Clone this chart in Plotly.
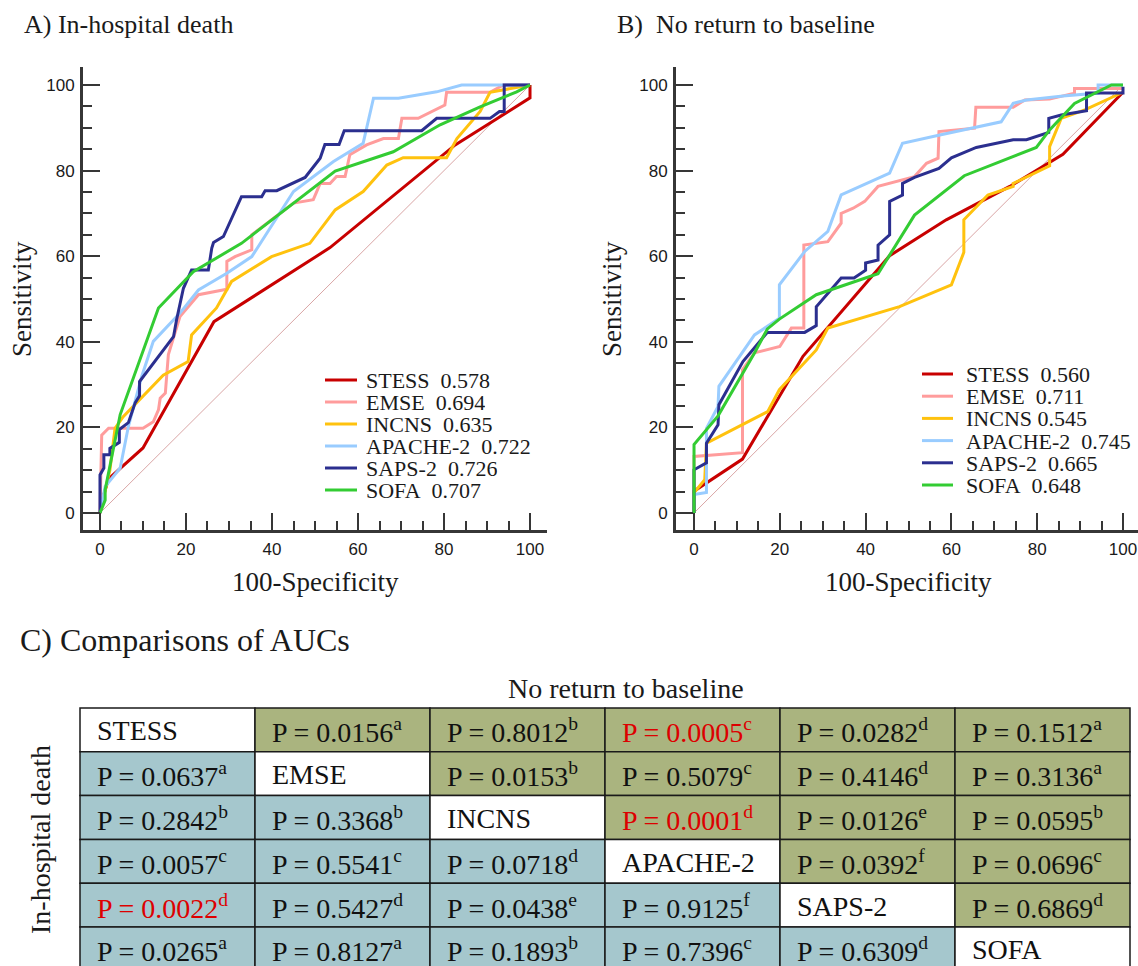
import plotly.graph_objects as go

W, H = 1138, 966

# ---------------- DATA ----------------
models = ["STESS", "EMSE", "INCNS", "APACHE-2", "SAPS-2", "SOFA"]
colors = ["#C80000", "#FF9C9C", "#FFC20E", "#99CCFF", "#2B2F8F", "#33CC33"]

aucs_a = [0.578, 0.694, 0.635, 0.722, 0.726, 0.707]
aucs_b = [0.560, 0.711, 0.545, 0.745, 0.665, 0.648]

# Panel A: In-hospital death  (x = 100-Specificity, y = Sensitivity)
stess_a_x = [0, 0.5, 2, 10, 26.5, 53.5, 82.6, 100, 100]
stess_a_y = [0, 3, 8, 15.2, 44.7, 62, 86, 97, 100]

emse_a_x = [0, 0.4, 2.0, 10, 12.4, 13.6, 14, 15.2, 15.9, 18.6, 22.9, 29.5, 29.5, 31.4, 35.3, 35.3,
            45, 49.6, 50.4, 51.2, 53.5, 55, 57, 58.1, 62, 65.9, 69.4, 70.2, 74, 80.2, 80.6, 90.7, 93.8, 100]
emse_a_y = [0, 18.2, 19.8, 19.8, 21.3, 24.1, 26.8, 28, 37, 45.9, 51, 52.3, 58.8, 59.9, 61.5, 65,
            72.4, 73.2, 75.1, 77, 77, 78.6, 78.6, 83.7, 86, 87.5, 87.5, 92.2, 92.2, 95.3, 98.3, 98.3, 100, 100]

incns_a_x = [0, 2.3, 3.5, 5.4, 14.7, 20.5, 21.3, 27.1, 30.6, 39.9, 48.8, 54.7, 61.2, 66.7, 70.5,
             80.6, 83, 88.4, 90.7, 93.4, 100]
incns_a_y = [0, 10, 19.8, 22.5, 32.2, 35.4, 41.6, 47.9, 54.1, 59.9, 63, 70.8, 75.1, 81.3, 83,
             83, 87.5, 93.8, 98.3, 98.8, 100]

apache_a_x = [0, 1.2, 4.7, 6.6, 9.7, 12.4, 18.6, 22.9, 29.5, 35.3, 45, 54.3, 61.2, 63.6, 69.4,
              78.3, 84.1, 100]
apache_a_y = [0, 6.2, 10.5, 20.2, 31.9, 40.1, 46.7, 52.1, 56, 59.9, 75.1, 82.1, 86.4, 96.9, 96.9,
              98.4, 100, 100]

saps_a_x = [0, 0, 0.9, 0.9, 2.3, 2.3, 4.5, 4.5, 6.6, 8.2, 9.2, 9.2, 17.1, 17.8, 19.4, 21.3, 25.2,
            26, 26.4, 28.7, 32.9, 37.6, 38.4, 41.1, 47.7, 51.2, 52.3, 55.6, 56.8, 74.8, 78.3, 90.7,
            92.9, 94, 94, 100]
saps_a_y = [0, 8.9, 10.5, 13.6, 13.6, 15.1, 16.5, 19.5, 21.1, 25.8, 27.4, 30.7, 41.2, 45.1, 52.5,
            56.8, 56.8, 61.9, 63.2, 64.6, 73.9, 73.9, 75.3, 75.3, 78.4, 82.9, 86.1, 86.1, 89.3,
            89.3, 92.2, 92.2, 93.8, 93.8, 100, 100]

sofa_a_x = [0, 1.2, 1.2, 4.7, 13.6, 21.7, 32.9, 54.7, 68.2, 79.1, 88.4, 96.9, 100]
sofa_a_y = [0, 3.0, 5.4, 23, 47.9, 56.4, 63, 79.9, 84.4, 90.7, 94.9, 98.4, 100]

# Panel B: No return to baseline
stess_b_x = [0, 0, 11.3, 25.4, 45.6, 58.8, 73.6, 86, 100]
stess_b_y = [0, 5.1, 12.6, 36.6, 60.1, 68.5, 76.3, 83.8, 98.3]

emse_b_x = [0, 0, 11.3, 11.3, 14.1, 20, 22.7, 25.6, 25.6, 31.2, 34.3, 34.3, 37.1, 39.8, 42.9,
            51.4, 54.2, 56.9, 57.1, 65.4, 65.7, 74.4, 77.1, 82.9, 88.7, 88.7, 100]
emse_b_y = [0, 13.2, 14.1, 33.5, 37.4, 38.9, 43.2, 43.2, 62.6, 63.4, 67.7, 70, 71.2, 72.8, 76.3,
            78.6, 81.7, 82.9, 89.1, 89.9, 94.8, 94.8, 96.5, 96.7, 98.1, 99.2, 99.2]

incns_b_x = [0, 0, 2.5, 2.9, 17.2, 19.9, 28.5, 31.2, 47.9, 60, 62.9, 62.9, 68.5, 74.4, 74.4,
             82.9, 82.9, 85.6, 91.1, 100]
incns_b_y = [0, 4.7, 7.8, 16.3, 23.7, 28.8, 38.1, 43.2, 48.2, 53.3, 60.9, 68.5, 74.3, 76.3, 77,
             81.1, 85.6, 92.2, 94.2, 98.3]

apache_b_x = [0, 0, 2.9, 2.9, 5.6, 5.8, 14.1, 17.2, 19.9, 19.9, 25.8, 31.2, 34.3, 45.6, 48.6,
              57.3, 65, 71.6, 74.4, 77.5, 86, 94.2, 94.2, 100]
apache_b_y = [0, 4.3, 4.8, 19.8, 24.9, 29.6, 41.6, 43.6, 45.5, 53.3, 61.1, 65.8, 74.3, 79.4, 86.4,
              88.3, 89.9, 91.4, 95.7, 96.5, 97.4, 98.1, 100, 100]

saps_b_x = [0, 0, 2.9, 2.9, 5.6, 5.8, 11.4, 17.1, 25.8, 28.5, 28.5, 34.3, 37.3, 40, 40, 42.9,
            42.9, 45.6, 45.6, 48.6, 48.6, 51.4, 57.1, 60, 65.8, 74.4, 77.5, 82.7, 82.7, 85.6,
            91.5, 91.5, 100, 100]
saps_b_y = [0, 10.1, 11.7, 16.3, 20.6, 25.3, 35.4, 42.2, 42.2, 43.8, 48.2, 54.9, 54.9, 56.7, 58.4,
            59.1, 62.6, 65, 72.8, 74.3, 77, 78.4, 80.5, 83, 85.4, 87.2, 87.2, 88.9, 92.2, 93,
            94, 98.1, 98.1, 99.6]

sofa_b_x = [0, 0, 5.6, 14.1, 17.1, 19.9, 28.5, 42.9, 51.4, 63, 79.8, 82.9, 88.7, 97.3, 100]
sofa_b_y = [0, 16, 22.7, 37.4, 43, 45.3, 51, 55.9, 69.6, 78.8, 85.4, 89.5, 95.7, 100, 100]

curves_a = [(stess_a_x, stess_a_y), (emse_a_x, emse_a_y), (incns_a_x, incns_a_y),
            (apache_a_x, apache_a_y), (saps_a_x, saps_a_y), (sofa_a_x, sofa_a_y)]
curves_b = [(stess_b_x, stess_b_y), (emse_b_x, emse_b_y), (incns_b_x, incns_b_y),
            (apache_b_x, apache_b_y), (saps_b_x, saps_b_y), (sofa_b_x, sofa_b_y)]

diag_x = [0, 100]
diag_y = [0, 100]

axis_ticks = [0, 20, 40, 60, 80, 100]

# Table C: pairwise AUC comparisons (upper = No return to baseline, lower = In-hospital death)
pvals = [
    [None, "0.0156", "0.8012", "0.0005", "0.0282", "0.1512"],
    ["0.0637", None, "0.0153", "0.5079", "0.4146", "0.3136"],
    ["0.2842", "0.3368", None, "0.0001", "0.0126", "0.0595"],
    ["0.0057", "0.5541", "0.0718", None, "0.0392", "0.0696"],
    ["0.0022", "0.5427", "0.0438", "0.9125", None, "0.6869"],
    ["0.0265", "0.8127", "0.1893", "0.7396", "0.6309", None],
]
sups = [
    [None, "a", "b", "c", "d", "a"],
    ["a", None, "b", "c", "d", "a"],
    ["b", "b", None, "d", "e", "b"],
    ["c", "c", "d", None, "f", "c"],
    ["d", "d", "e", "f", None, "d"],
    ["a", "a", "b", "c", "d", None],
]
sig_threshold = 0.005

# ---------------- STYLE ----------------
SERIF = "Liberation Serif, Times New Roman, serif"
SANS = "Liberation Sans, Arial, sans-serif"
AXC = "#363636"
OLIVE = "#AAB47F"
TEAL = "#A5C7CD"
RED = "#DD0000"


def px(x):
    return x / W


def py(y):
    return 1 - y / H


fig = go.Figure()

fig.add_trace(go.Scatter(x=diag_x, y=diag_y, mode="lines", line=dict(color="#D9A5A5", width=1),
                         xaxis="x", yaxis="y", showlegend=False, name="reference"))
for (xs, ys), name, col in zip(curves_a, models, colors):
    fig.add_trace(go.Scatter(x=xs, y=ys, mode="lines", name=name,
                             line=dict(color=col, width=3), xaxis="x", yaxis="y",
                             showlegend=False))
fig.add_trace(go.Scatter(x=diag_x, y=diag_y, mode="lines", line=dict(color="#D9A5A5", width=1),
                         xaxis="x2", yaxis="y2", showlegend=False, name="reference"))
for (xs, ys), name, col in zip(curves_b, models, colors):
    fig.add_trace(go.Scatter(x=xs, y=ys, mode="lines", name=name,
                             line=dict(color=col, width=3), xaxis="x2", yaxis="y2",
                             showlegend=False))

common_axis = dict(
    showline=True, linewidth=3, linecolor=AXC, mirror=False,
    ticks="inside", ticklen=17, tickwidth=2, tickcolor=AXC,
    tickvals=axis_ticks, showgrid=False, zeroline=False,
    tickfont=dict(family=SANS, size=17, color="#1a1a1a"),
    minor=dict(dtick=5, tick0=0, ticks="inside", ticklen=9, tickwidth=2, tickcolor=AXC, showgrid=False),
    fixedrange=True,
)

ydom = [py(530), py(67)]
fig.update_layout(
    xaxis=dict(domain=[px(83), px(547)], range=[-3.95, 103.95], anchor="y", ticklabelstandoff=2, **common_axis),
    yaxis=dict(domain=ydom, range=[-3.97, 104.2], anchor="x", ticklabelstandoff=2, **common_axis),
    xaxis2=dict(domain=[px(676), 1.0], range=[-4.2, 103.5], anchor="y2", ticklabelstandoff=2, **common_axis),
    yaxis2=dict(domain=ydom, range=[-3.97, 104.2], anchor="x2", ticklabelstandoff=2, **common_axis),
)

ann = []
shapes = []


def text(x, y, s, size, xanchor="left", color="#1a1a1a", family=SERIF, angle=0, height=None):
    d = dict(x=px(x), y=py(y), xref="paper", yref="paper", text=s, showarrow=False,
             xanchor=xanchor, yanchor="middle", textangle=angle,
             font=dict(family=family, size=size, color=color))
    if height is not None:
        d["height"] = height
    ann.append(d)


# Titles
text(22, 25, "A) In-hospital death", 26)
text(615, 25, "B)  No return to baseline", 26)
text(18, 640, "C) Comparisons of AUCs", 32)

# Axis titles
text(315, 582, "100-Specificity", 27, xanchor="center")
text(908, 582, "100-Specificity", 27, xanchor="center")
text(22, 299, "Sensitivity", 27, xanchor="center", angle=-90)
text(612, 299, "Sensitivity", 27, xanchor="center", angle=-90)

# Legends (manual)
NB = "\u00a0"


def legend(x0, x1, xt, y0, dy, aucs, seps):
    for i, (name, col, auc, sep) in enumerate(zip(models, colors, aucs, seps)):
        yy = y0 + i * dy
        shapes.append(dict(type="line", xref="paper", yref="paper", x0=px(x0), x1=px(x1),
                           y0=py(yy), y1=py(yy), line=dict(color=col, width=3)))
        text(xt, yy, f"{name}{sep}{auc:.3f}", 22, height=20)


legend(325, 357, 364, 380, 22, aucs_a, [NB + NB] * 6)
legend(922, 953, 964, 374, 22.2, aucs_b, [NB + NB, NB + NB, NB, NB + NB, NB + NB, NB + NB])

# Table
TL, TR, TT, RH = 80, 1130, 708, 43.8
CW = (TR - TL) / 6
text(506, 688, "No return to baseline", 28)
text(40, 840, "In-hospital death", 28, xanchor="center", angle=-90)

for i in range(6):
    for j in range(6):
        x0 = TL + j * CW
        y0 = TT + i * RH
        if i == j:
            fill = "white"
        elif j > i:
            fill = OLIVE
        else:
            fill = TEAL
        shapes.append(dict(type="rect", xref="paper", yref="paper", x0=px(x0), x1=px(x0 + CW),
                           y0=py(y0), y1=py(y0 + RH), fillcolor=fill,
                           line=dict(color="#1a1a1a", width=1.5), layer="below"))
        if i == j:
            s = models[i]
            col = "#111111"
        else:
            p = pvals[i][j]
            s = f"P = {p}<sup>{sups[i][j]}</sup>"
            col = RED if float(p) < sig_threshold else "#111111"
        text(x0 + 15, y0 + RH / 2 + 1, s, 28, color=col)

fig.update_layout(
    width=W, height=H, margin=dict(l=0, r=0, t=0, b=0),
    paper_bgcolor="white", plot_bgcolor="rgba(0,0,0,0)",
    annotations=ann, shapes=shapes, showlegend=False,
)

fig.write_html("out.html", config={"displayModeBar": False},
               post_script="document.body.style.margin='0';")
